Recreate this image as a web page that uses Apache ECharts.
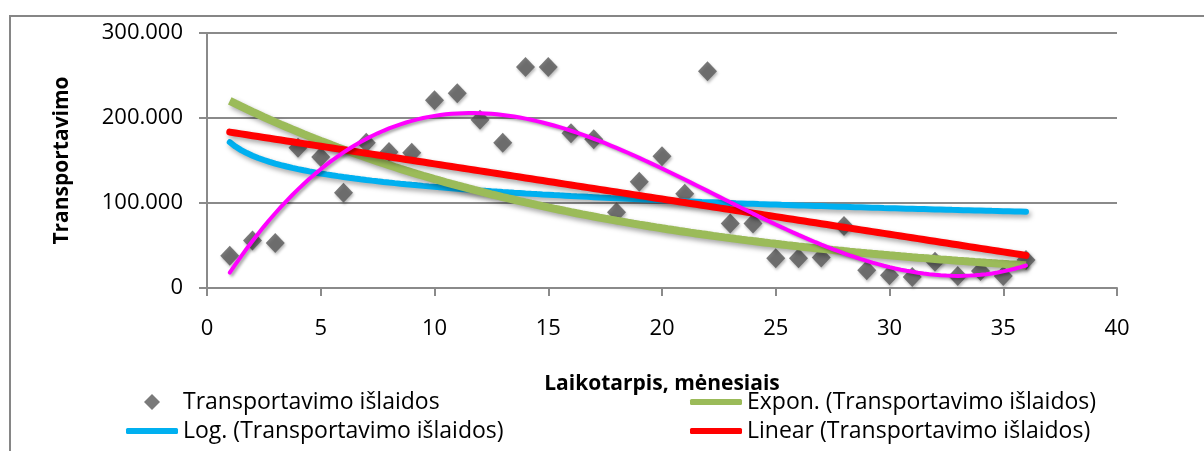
<!DOCTYPE html>
<html>
<head>
<meta charset="utf-8">
<title>Transportavimo išlaidos</title>
<script src="https://cdn.jsdelivr.net/npm/echarts@6/dist/echarts.min.js"></script>
<style>
  html, body { margin: 0; padding: 0; background: #fff; }
  #chart { width: 1204px; height: 451px; }
</style>
</head>
<body>
<div id="chart"></div>
<script>
// --- duomenys ---
const months = [1, 2, 3, 4, 5, 6, 7, 8, 9, 10, 11, 12, 13, 14, 15, 16, 17, 18,
  19, 20, 21, 22, 23, 24, 25, 26, 27, 28, 29, 30, 31, 32, 33, 34, 35, 36];
const costs = [38000, 56000, 53000, 165000, 154000, 112000, 171000, 160000, 159000,
  221000, 229000, 198000, 171000, 260000, 260000, 182000, 175000, 89000,
  125000, 155000, 111000, 255000, 76000, 76000, 35000, 35000, 36000, 73000,
  21000, 15000, 13000, 31000, 14000, 20000, 14000, 33000];
const yTicks = [0, 100000, 200000, 300000];
const xTicks = [0, 5, 10, 15, 20, 25, 30, 35, 40];

const NAME_PTS = "Transportavimo išlaidos";
const NAME_EXP = "Expon. (Transportavimo išlaidos)";
const NAME_LOG = "Log. (Transportavimo išlaidos)";
const NAME_LIN = "Linear (Transportavimo išlaidos)";
const NAME_POLY = "Poly. (Transportavimo išlaidos)";

// --- trendai (mažiausių kvadratų metodas, kaip Excel) ---
function linFit(xs, ys) {
  const n = xs.length;
  let sx = 0, sy = 0, sxx = 0, sxy = 0;
  for (let i = 0; i < n; i++) {
    sx += xs[i]; sy += ys[i]; sxx += xs[i] * xs[i]; sxy += xs[i] * ys[i];
  }
  const b = (n * sxy - sx * sy) / (n * sxx - sx * sx);
  const a = (sy - b * sx) / n;
  return { a, b };
}

function polyFit(xs, ys, order) {
  const m = order + 1;
  const A = [];
  for (let r = 0; r < m; r++) {
    A.push(new Array(m + 1).fill(0));
    for (let c = 0; c < m; c++) {
      for (let i = 0; i < xs.length; i++) A[r][c] += Math.pow(xs[i], r + c);
    }
    for (let i = 0; i < xs.length; i++) A[r][m] += ys[i] * Math.pow(xs[i], r);
  }
  for (let k = 0; k < m; k++) {
    let p = k;
    for (let r = k + 1; r < m; r++) if (Math.abs(A[r][k]) > Math.abs(A[p][k])) p = r;
    [A[k], A[p]] = [A[p], A[k]];
    for (let r = k + 1; r < m; r++) {
      const f = A[r][k] / A[k][k];
      for (let c = k; c <= m; c++) A[r][c] -= f * A[k][c];
    }
  }
  const coef = new Array(m).fill(0);
  for (let k = m - 1; k >= 0; k--) {
    let s = A[k][m];
    for (let c = k + 1; c < m; c++) s -= A[k][c] * coef[c];
    coef[k] = s / A[k][k];
  }
  return coef;
}

const lin = linFit(months, costs);
const logF = linFit(months.map(Math.log), costs);
const expF = linFit(months, costs.map(Math.log));
const poly = polyFit(months, costs, 3);

function curve(fn) {
  const pts = [];
  const x0 = months[0], x1 = months[months.length - 1];
  for (let x = x0; x <= x1 + 1e-9; x += 0.25) pts.push([x, fn(x)]);
  return pts;
}

const linData = curve(x => lin.a + lin.b * x);
const logData = curve(x => logF.a + logF.b * Math.log(x));
const expData = curve(x => Math.exp(expF.a + expF.b * x));
const polyData = curve(x => poly.reduce((s, c, i) => s + c * Math.pow(x, i), 0));

// --- grafikas ---
const chart = echarts.init(document.getElementById("chart"));
const FONT = "'Open Sans', 'Noto Sans', sans-serif";
const GRID_GRAY = "#8a8a8a";
const shadow = {
  shadowColor: "rgba(0, 0, 0, 0.35)",
  shadowBlur: 5,
  shadowOffsetX: 2,
  shadowOffsetY: 3,
};

function lineLegend(name, left, top, width) {
  return {
    data: [name],
    left: left,
    top: top,
    padding: 0,
    icon: "roundRect",
    itemWidth: width,
    itemHeight: 6,
    itemStyle: { borderWidth: 0 },
    textStyle: { fontFamily: FONT, fontSize: 23, color: "#000", lineHeight: 26 },
  };
}

const option = {
  animation: false,
  backgroundColor: "#fff",
  graphic: [
    {
      type: "rect",
      shape: { x: 10, y: 16, width: 1300, height: 500 },
      style: { fill: "none", stroke: "#868686", lineWidth: 2 },
      silent: true,
    },
  ],
  grid: { left: 207, right: 87, top: 33, bottom: 163 },
  xAxis: {
    type: "value",
    min: xTicks[0],
    max: xTicks[xTicks.length - 1],
    interval: 5,
    name: "Laikotarpis, mėnesiais",
    nameLocation: "middle",
    nameGap: 86,
    nameTextStyle: { fontFamily: FONT, fontSize: 21, fontWeight: "bold", color: "#000" },
    axisLine: { lineStyle: { color: GRID_GRAY, width: 2 } },
    axisTick: { show: true, length: 8, lineStyle: { color: GRID_GRAY, width: 2 } },
    axisLabel: { fontFamily: FONT, fontSize: 22, color: "#000", margin: 30 },
    splitLine: { show: false },
  },
  yAxis: {
    type: "value",
    min: yTicks[0],
    max: yTicks[yTicks.length - 1],
    interval: 100000,
    name: "Transportavimo",
    nameLocation: "middle",
    nameRotate: 90,
    nameGap: 134,
    nameTextStyle: { fontFamily: FONT, fontSize: 21, fontWeight: "bold", color: "#000" },
    axisLine: { show: true, lineStyle: { color: GRID_GRAY, width: 2 } },
    axisTick: { show: true, length: 8, lineStyle: { color: GRID_GRAY, width: 2 } },
    axisLabel: {
      fontFamily: FONT,
      fontSize: 22,
      color: "#000",
      margin: 24,
      formatter: function (v) {
        return v === 0 ? "0" : v / 1000 + ".000";
      },
    },
    splitLine: { lineStyle: { color: GRID_GRAY, width: 2 } },
  },
  legend: [
    {
      data: [NAME_PTS],
      left: 144,
      top: 389,
      padding: 0,
      icon: "diamond",
      itemWidth: 16,
      itemHeight: 16,
      textStyle: {
        fontFamily: FONT, fontSize: 23, color: "#000", lineHeight: 26,
        padding: [0, 0, 0, 18],
      },
    },
    lineLegend(NAME_EXP, 690, 389, 52),
    lineLegend(NAME_LOG, 126, 418, 52),
    lineLegend(NAME_LIN, 690, 418, 52),
  ],
  series: [
    {
      name: NAME_PTS,
      type: "scatter",
      data: months.map((m, i) => [m, costs[i]]),
      symbol: "diamond",
      symbolSize: [19, 20],
      itemStyle: Object.assign({ color: "#595959" }, shadow, { shadowBlur: 3, shadowOffsetX: 1, shadowOffsetY: 2 }),
      z: 2,
    },
    {
      name: NAME_LOG,
      type: "line",
      data: logData,
      showSymbol: false,
      symbol: "none",
      color: "#00B0F0",
      itemStyle: { color: "#00B0F0" },
      lineStyle: Object.assign({ color: "#00B0F0", width: 6, cap: "round" }, shadow),
      z: 3,
    },
    {
      name: NAME_EXP,
      type: "line",
      data: expData,
      showSymbol: false,
      symbol: "none",
      color: "#9BBB59",
      itemStyle: { color: "#9BBB59" },
      lineStyle: Object.assign({ color: "#9BBB59", width: 8 }, shadow),
      z: 4,
    },
    {
      name: NAME_LIN,
      type: "line",
      data: linData,
      showSymbol: false,
      symbol: "none",
      color: "#FF0000",
      itemStyle: { color: "#FF0000" },
      lineStyle: Object.assign({ color: "#FF0000", width: 7, cap: "round" }, shadow),
      z: 5,
    },
    {
      name: NAME_POLY,
      type: "line",
      data: polyData,
      showSymbol: false,
      symbol: "none",
      color: "#FF00FF",
      itemStyle: { color: "#FF00FF" },
      lineStyle: Object.assign({ color: "#FF00FF", width: 4, cap: "round" }, shadow, { shadowBlur: 3, shadowOffsetY: 2 }),
      z: 6,
    },
  ],
};

chart.setOption(option);
window.addEventListener("resize", function () {
  chart.resize();
});
</script>
</body>
</html>
